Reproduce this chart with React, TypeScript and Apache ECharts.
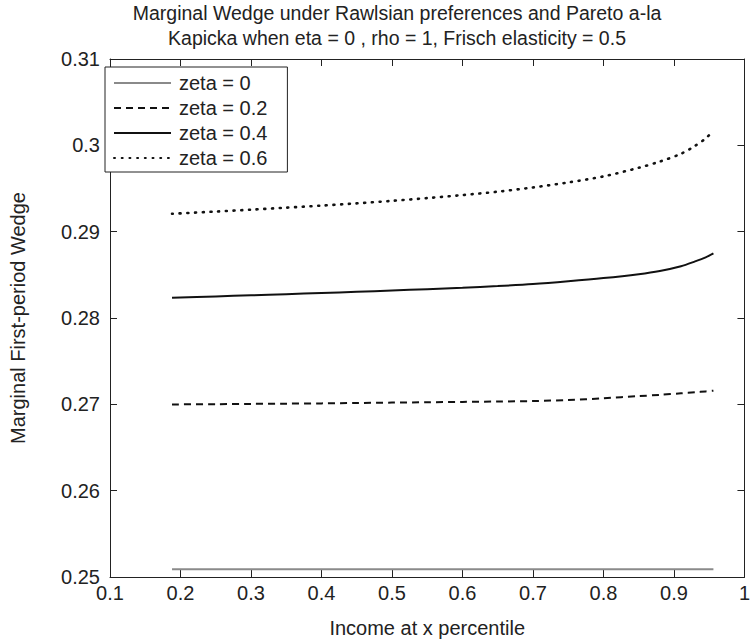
import React, { useEffect, useRef } from "react";
import * as echarts from "echarts";

const titleLines = [
  "Marginal Wedge under Rawlsian preferences and Pareto a-la",
  "Kapicka when eta = 0 , rho = 1, Frisch elasticity = 0.5",
];
const xName = "Income at x percentile";
const yName = "Marginal First-period Wedge";
const seriesNames = ["zeta = 0", "zeta = 0.2", "zeta = 0.4", "zeta = 0.6"];

const percentiles = [0.188, 0.25, 0.3, 0.35, 0.4, 0.45, 0.5, 0.55, 0.6, 0.65, 0.7, 0.75, 0.8, 0.85, 0.88, 0.91, 0.93, 0.945, 0.956];
const zeta0 = [0.2509, 0.2509, 0.2509, 0.2509, 0.2509, 0.2509, 0.2509, 0.2509, 0.2509, 0.2509, 0.2509, 0.2509, 0.2509, 0.2509, 0.2509, 0.2509, 0.2509, 0.2509, 0.2509];
const zeta02 = [0.26999, 0.27002, 0.27005, 0.27008, 0.27011, 0.27016, 0.2702, 0.27024, 0.27028, 0.27033, 0.27038, 0.2705, 0.2707, 0.27095, 0.2711, 0.27127, 0.27139, 0.2715, 0.27158];
const zeta04 = [0.28234, 0.2825, 0.28263, 0.28276, 0.28289, 0.28303, 0.28318, 0.28334, 0.28351, 0.2837, 0.28393, 0.28425, 0.28462, 0.28508, 0.28545, 0.286, 0.28656, 0.28703, 0.28749];
const zeta06 = [0.29207, 0.29233, 0.29255, 0.29278, 0.29302, 0.29328, 0.29357, 0.29389, 0.29424, 0.29463, 0.29512, 0.2957, 0.2964, 0.2974, 0.29812, 0.29902, 0.29995, 0.3008, 0.30169];

const FONT = "'Liberation Sans', Arial, Helvetica, sans-serif";
const INK = "#222";

const fmt = (v: number) => String(+v.toFixed(3));

export default function App() {
  const ref = useRef<HTMLDivElement>(null);
  useEffect(() => {
    if (!ref.current) return;
    const chart = echarts.init(ref.current, null, { renderer: "svg" });
    const pair = (ys: number[]) => percentiles.map((x, i) => [x, ys[i]]);
    const axisLine = { show: true, lineStyle: { color: INK, width: 1 } };
    const tick = { show: true, inside: true, length: 7, lineStyle: { color: INK, width: 1 } };
    const lineSeries = (name: string, ys: number[], color: string, type: any, width: number, cap: any = "butt") => ({
      name,
      type: "line",
      data: pair(ys),
      showSymbol: false,
      symbol: "none",
      smooth: 0.3,
      lineStyle: { color, type, width, cap },
      itemStyle: { color },
    });
    chart.setOption({
      animation: false,
      backgroundColor: "#fff",
      textStyle: { fontFamily: FONT },
      title: {
        text: titleLines.join("\n"),
        left: 392,
        top: -5,
        textAlign: "center",
        textStyle: { fontFamily: FONT, fontSize: 19.5, fontWeight: "normal", color: INK, lineHeight: 25 },
      },
      grid: { left: 96, right: 2, top: 59, bottom: 66, containLabel: false },
      legend: {
        orient: "vertical",
        left: 105,
        top: 67,
        padding: [6, 20, 4, 8],
        backgroundColor: "#fff",
        borderColor: INK,
        borderWidth: 1,
        borderRadius: 0,
        itemWidth: 57,
        itemHeight: 14,
        itemGap: 5,
        itemStyle: { opacity: 0 },
        data: seriesNames,
        textStyle: { fontFamily: FONT, fontSize: 20, color: INK, lineHeight: 20, padding: [0, 0, 0, 3] },
      },
      xAxis: [
        {
          type: "value",
          min: 0.1,
          max: 1,
          interval: 0.1,
          name: xName,
          nameLocation: "middle",
          nameGap: 41,
          nameTextStyle: { fontFamily: FONT, fontSize: 20, color: INK },
          axisLine,
          axisTick: tick,
          axisLabel: { fontFamily: FONT, fontSize: 20, color: INK, margin: 6, formatter: fmt },
          splitLine: { show: false },
        },
        {
          type: "value",
          position: "top",
          min: 0.1,
          max: 1,
          interval: 0.1,
          axisLine,
          axisTick: tick,
          axisLabel: { show: false },
          splitLine: { show: false },
        },
      ],
      yAxis: [
        {
          type: "value",
          min: 0.25,
          max: 0.31,
          interval: 0.01,
          name: yName,
          nameLocation: "middle",
          nameGap: 82,
          nameTextStyle: { fontFamily: FONT, fontSize: 20, color: INK },
          axisLine,
          axisTick: tick,
          axisLabel: { fontFamily: FONT, fontSize: 20, color: INK, margin: 10, formatter: fmt },
          splitLine: { show: false },
        },
        {
          type: "value",
          position: "right",
          min: 0.25,
          max: 0.31,
          interval: 0.01,
          axisLine,
          axisTick: tick,
          axisLabel: { show: false },
          splitLine: { show: false },
        },
      ],
      series: [
        lineSeries(seriesNames[0], zeta0, "#8a8a8a", "solid", 2),
        lineSeries(seriesNames[1], zeta02, "#111", [7, 5], 2),
        lineSeries(seriesNames[2], zeta04, "#111", "solid", 2),
        lineSeries(seriesNames[3], zeta06, "#111", [1, 6.7], 2.6, "round"),
      ],
    });
    return () => chart.dispose();
  }, []);
  return <div ref={ref} style={{ position: "fixed", left: 0, top: 0, width: 753, height: 643 }} />;
}
